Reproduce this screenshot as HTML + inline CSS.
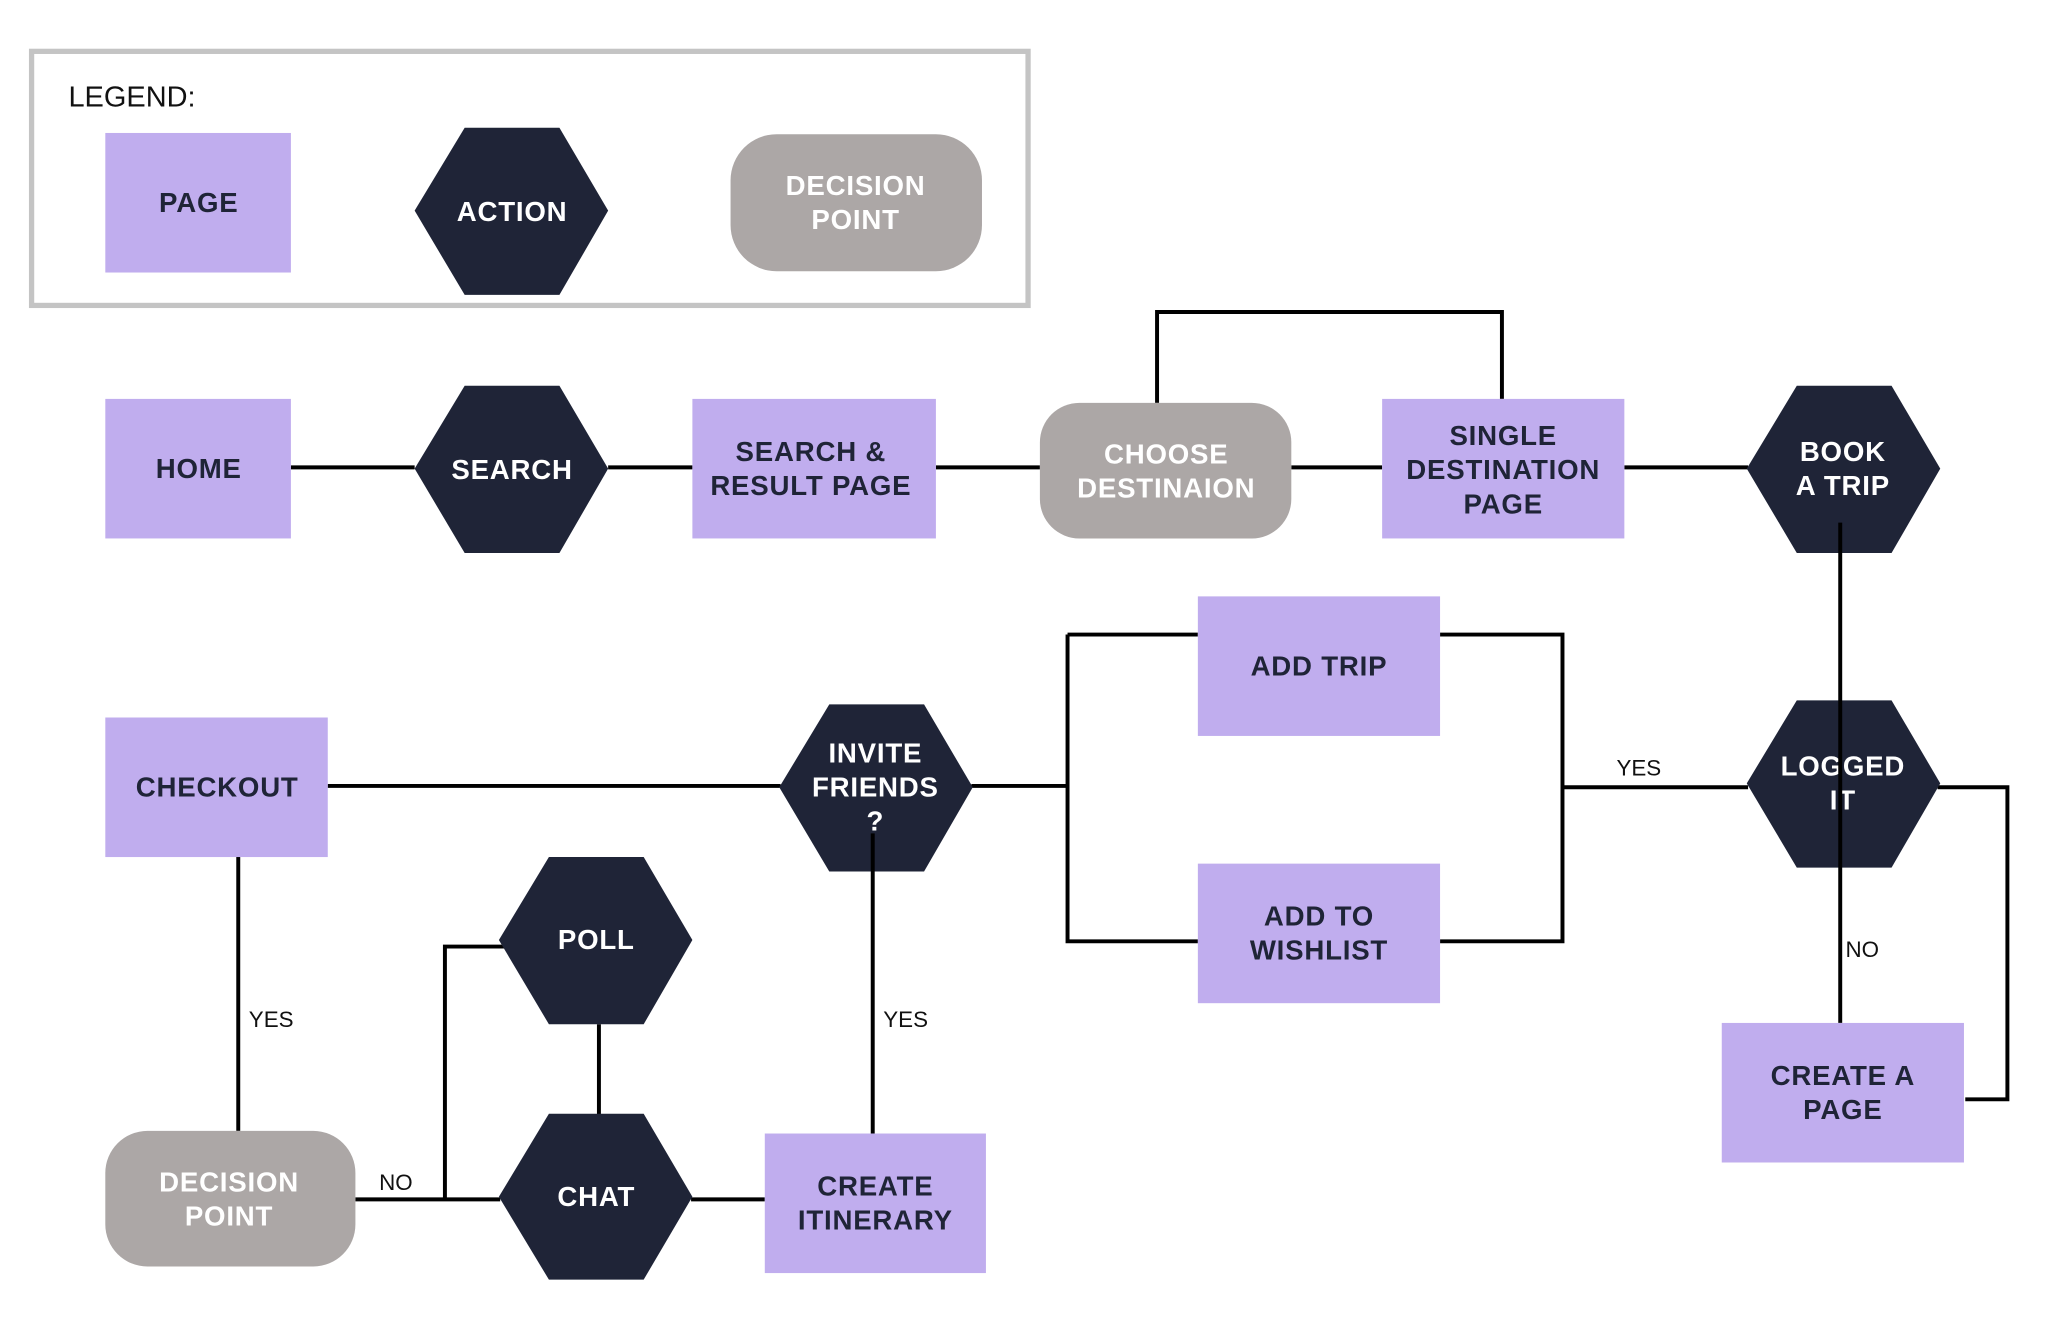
<!DOCTYPE html>
<html><head><meta charset="utf-8"><style>
html,body{margin:0;padding:0;background:#fff;}
svg{display:block;}
.t{font-family:"Liberation Sans",sans-serif;font-weight:bold;font-size:21px;letter-spacing:0.6px;text-anchor:middle;}
.d{fill:#1f2437;}
.w{fill:#fff;}
.l{font-family:"Liberation Sans",sans-serif;font-size:17px;fill:#111;}
.p{fill:#c0adee;}
.g{fill:#aca7a6;}
.h{fill:#1f2437;}
.c{stroke:#000;stroke-width:3;fill:none;}
</style></head><body>
<svg width="2064" height="1331" viewBox="0 0 1568 1011" preserveAspectRatio="none" xmlns="http://www.w3.org/2000/svg">
<rect x="24" y="39" width="757" height="193" fill="none" stroke="#c4c4c4" stroke-width="4"/>
<text x="52" y="81" font-family="Liberation Sans,sans-serif" font-size="22" fill="#111">LEGEND:</text>
<rect class="p" x="80" y="101" width="141" height="106"/>
<text class="t d" x="151" y="161">PAGE</text>
<polygon class="h" points="315,160 353,97 425,97 462,160 425,224 353,224"/>
<text class="t w" x="389" y="168">ACTION</text>
<rect class="g" x="555" y="102" width="191" height="104" rx="35"/>
<text class="t w" x="650" y="148">DECISION</text>
<text class="t w" x="650" y="174">POINT</text>

<path class="c" d="M221,355H315 M462,355H526 M711,355H790 M981,355H1050 M1234,355H1328"/>
<path class="c" d="M879,306V237H1141V303"/>
<path class="c" d="M811,482H910 M811,482V715H910 M1094,482H1187V715H1094 M1187,598H1328"/>
<path class="c" d="M1472,598H1525V835H1493"/>
<path class="c" d="M249,597H593 M738,597H811"/>
<path class="c" d="M181,651V859"/>
<path class="c" d="M270,911H380 M338,911V719H385 M455,778V858 M525,911H581"/>

<rect class="p" x="80" y="303" width="141" height="106"/>
<text class="t d" x="151" y="363">HOME</text>
<polygon class="h" points="315,356 353,293 425,293 462,356 425,420 353,420"/>
<text class="t w" x="389" y="364">SEARCH</text>
<rect class="p" x="526" y="303" width="185" height="106"/>
<text class="t d" x="616" y="350">SEARCH &amp;</text>
<text class="t d" x="616" y="376">RESULT PAGE</text>
<rect class="g" x="790" y="306" width="191" height="103" rx="30"/>
<text class="t w" x="886" y="352">CHOOSE</text>
<text class="t w" x="886" y="378">DESTINAION</text>
<rect class="p" x="1050" y="303" width="184" height="106"/>
<text class="t d" x="1142" y="338">SINGLE</text>
<text class="t d" x="1142" y="364">DESTINATION</text>
<text class="t d" x="1142" y="390">PAGE</text>
<polygon class="h" points="1327,356 1365,293 1437,293 1474,356 1437,420 1365,420"/>
<text class="t w" x="1400" y="350">BOOK</text>
<text class="t w" x="1400" y="376">A TRIP</text>

<rect class="p" x="910" y="453" width="184" height="106"/>
<text class="t d" x="1002" y="513">ADD TRIP</text>
<rect class="p" x="910" y="656" width="184" height="106"/>
<text class="t d" x="1002" y="703">ADD TO</text>
<text class="t d" x="1002" y="729">WISHLIST</text>
<polygon class="h" points="1327,595 1365,532 1437,532 1474,595 1437,659 1365,659"/>
<text class="t w" x="1400" y="589">LOGGED</text>
<text class="t w" x="1400" y="615">IT</text>
<rect class="p" x="1308" y="777" width="184" height="106"/>
<text class="t d" x="1400" y="824">CREATE A</text>
<text class="t d" x="1400" y="850">PAGE</text>
<polygon class="h" points="592,598 630,535 702,535 739,598 702,662 630,662"/>
<text class="t w" x="665" y="579">INVITE</text>
<text class="t w" x="665" y="605">FRIENDS</text>
<text class="t w" x="665" y="631">?</text>
<rect class="p" x="80" y="545" width="169" height="106"/>
<text class="t d" x="165" y="605">CHECKOUT</text>

<rect class="g" x="80" y="859" width="190" height="103" rx="32"/>
<text class="t w" x="174" y="905">DECISION</text>
<text class="t w" x="174" y="931">POINT</text>
<polygon class="h" points="379,714 417,651 489,651 526,714 489,778 417,778"/>
<text class="t w" x="453" y="721">POLL</text>
<polygon class="h" points="379,909 417,846 489,846 526,909 489,972 417,972"/>
<text class="t w" x="453" y="916">CHAT</text>
<rect class="p" x="581" y="861" width="168" height="106"/>
<text class="t d" x="665" y="908">CREATE</text>
<text class="t d" x="665" y="934">ITINERARY</text>

<path class="c" d="M1398,397V777 M663,633V861"/>

<text class="l" x="1228" y="589">YES</text>
<text class="l" x="1402" y="727">NO</text>
<text class="l" x="189" y="780">YES</text>
<text class="l" x="671" y="780">YES</text>
<text class="l" x="288" y="904">NO</text>
</svg>
</body></html>
